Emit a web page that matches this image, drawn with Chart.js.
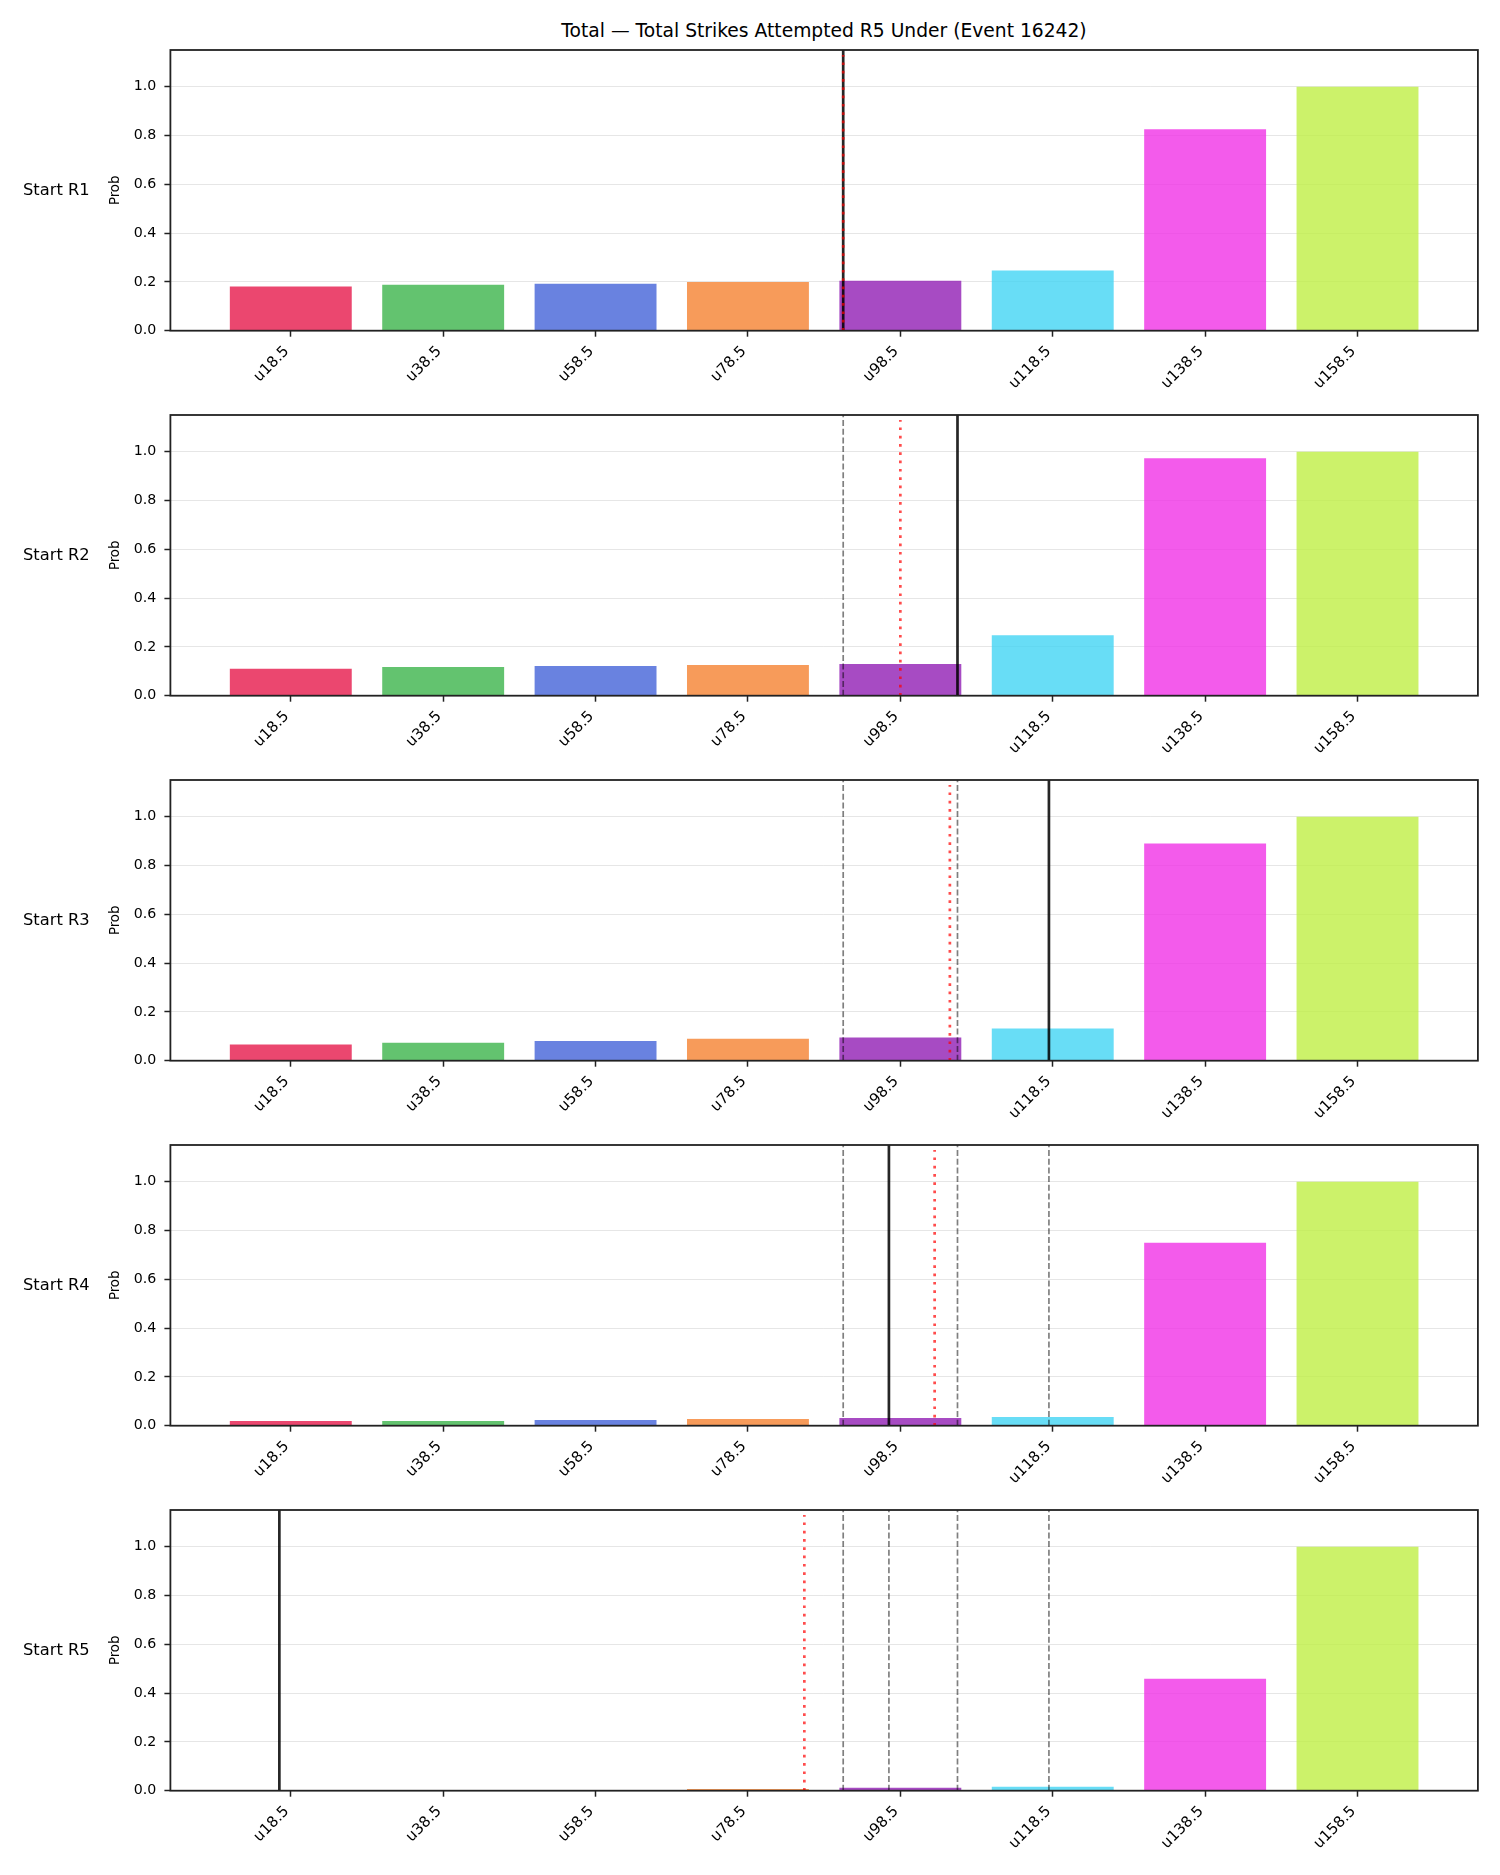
<!DOCTYPE html>
<html>
<head>
<meta charset="utf-8">
<script src="https://cdn.jsdelivr.net/npm/chart.js@4.4.1/dist/chart.umd.min.js"></script>
<style>
  html, body { margin: 0; padding: 0; background: #fff; }
  body { position: relative; width: 1500px; height: 1875px; overflow: hidden; font-family: 'DejaVu Sans', sans-serif; color: #000; }
  canvas { position: absolute; left: 0; }
  .title { position: absolute; left: 0; top: 20px; width: 1648px; text-align: center; font-size: 18.7px; line-height: 22px; white-space: nowrap; }
  .rowlabel { position: absolute; left: 23px; font-size: 16.3px; line-height: 20px; white-space: nowrap; }
</style>
</head>
<body>
<script>
// ---- data ----
const thresholds = [18.5, 38.5, 58.5, 78.5, 98.5, 118.5, 138.5, 158.5];
const tickLabels = ['u18.5', 'u38.5', 'u58.5', 'u78.5', 'u98.5', 'u118.5', 'u138.5', 'u158.5'];
const rowLabels = ['Start R1', 'Start R2', 'Start R3', 'Start R4', 'Start R5'];
const probR1 = [0.181, 0.188, 0.192, 0.200, 0.205, 0.247, 0.825, 0.999];
const probR2 = [0.110, 0.118, 0.122, 0.126, 0.130, 0.248, 0.973, 0.999];
const probR3 = [0.066, 0.074, 0.081, 0.090, 0.095, 0.132, 0.890, 0.999];
const probR4 = [0.019, 0.019, 0.023, 0.027, 0.032, 0.036, 0.750, 0.999];
const probR5 = [0.0005, 0.002, 0.003, 0.007, 0.012, 0.016, 0.459, 0.999];
const actualTotals = [91, 106, 118, 97, 17];        // solid black line per row
const projectedTotals = [91, 98.5, 105, 103, 85.9]; // red dotted line per row
const yTicks = [0, 0.2, 0.4, 0.6, 0.8, 1.0];
const titleText = 'Total — Total Strikes Attempted R5 Under (Event 16242)';

// ---- styles ----
const barPalette = ['#e6194b', '#3cb44b', '#4363d8', '#f58231', '#911eb4', '#42d4f4', '#f032e6', '#bfef45'];
const FONT = 'DejaVu Sans';
const Y_MAX = 1.15, RED_TOP = 1.13;
const X_MIN = 2.7, X_MAX = 174.3;
const PANEL_STEP = 365, CANVAS_H = 430;

const probs = [probR1, probR2, probR3, probR4, probR5];

const t = document.createElement('div');
t.className = 'title';
t.textContent = titleText;
document.body.appendChild(t);

const framePlugin = {
  id: 'frame',
  afterDraw(chart) {
    const { ctx, chartArea: a } = chart;
    ctx.save();
    ctx.strokeStyle = '#222';
    ctx.lineWidth = 1.8;
    ctx.strokeRect(a.left, a.top, a.right - a.left, a.bottom - a.top);
    ctx.restore();
  }
};

function vline(x, yTop, style) {
  return Object.assign({
    type: 'line',
    data: [{ x: x, y: 0 }, { x: x, y: yTop }],
    pointRadius: 0, pointHoverRadius: 0, fill: false, tension: 0
  }, style);
}

probs.forEach((p, i) => {
  const canvas = document.createElement('canvas');
  canvas.width = 1500;
  canvas.height = CANVAS_H;
  canvas.style.width = '1500px';
  canvas.style.height = CANVAS_H + 'px';
  canvas.style.top = (PANEL_STEP * i) + 'px';
  document.body.appendChild(canvas);

  const lab = document.createElement('div');
  lab.className = 'rowlabel';
  lab.style.top = (PANEL_STEP * i + 180) + 'px';
  lab.textContent = rowLabels[i];
  document.body.appendChild(lab);

  const datasets = [];
  datasets.push({
    type: 'bar',
    data: thresholds.map((th, j) => ({ x: th, y: p[j] })),
    backgroundColor: barPalette.map(c => c + 'cc'),
    borderWidth: 0,
    barPercentage: 0.8,
    categoryPercentage: 1.0,
    order: 5
  });
  actualTotals.slice(0, i).forEach(v => datasets.push(vline(v, Y_MAX, {
    borderColor: 'rgba(0,0,0,0.5)', borderWidth: 1.7, borderDash: [6, 2.7], order: 3
  })));
  datasets.push(vline(actualTotals[i], Y_MAX, {
    borderColor: 'rgba(0,0,0,0.85)', borderWidth: 2.7, order: 2
  }));
  datasets.push(vline(projectedTotals[i], RED_TOP, {
    borderColor: 'rgba(255,0,0,0.7)', borderWidth: 2.7, borderDash: [2.7, 5.6], order: 1
  }));

  new Chart(canvas, {
    type: 'bar',
    data: { datasets },
    plugins: [framePlugin],
    options: {
      responsive: false,
      animation: false,
      events: [],
      layout: { padding: { top: 50, right: 22.1, bottom: 0, left: 0 } },
      plugins: { legend: { display: false }, tooltip: { enabled: false }, title: { display: false } },
      scales: {
        x: {
          type: 'linear', min: X_MIN, max: X_MAX, offset: false,
          afterBuildTicks: s => { s.ticks = thresholds.map(v => ({ value: v })); },
          afterFit: s => { s.height = CANVAS_H - 330.7; },
          ticks: {
            autoSkip: false, minRotation: 45, maxRotation: 45, padding: 6, labelOffset: -4,
            color: '#000', font: { family: FONT, size: 15 },
            callback: (v, idx) => tickLabels[idx]
          },
          grid: { display: true, drawOnChartArea: false, drawTicks: true, tickLength: 6, tickWidth: 1.5, tickColor: '#222', offset: false },
          border: { display: false }
        },
        y: {
          type: 'linear', min: 0, max: Y_MAX,
          afterBuildTicks: s => { s.ticks = yTicks.map(v => ({ value: v })); },
          afterFit: s => { s.width = 170.4; },
          ticks: { padding: 8, color: '#000', font: { family: FONT, size: 14.2 }, callback: v => v.toFixed(1) },
          grid: { color: '#e6e6e6', lineWidth: 1, drawTicks: true, tickLength: 6, tickWidth: 1.5, tickColor: '#222' },
          border: { display: false },
          title: { display: true, text: 'Prob', color: '#000', font: { family: FONT, size: 13.3 }, padding: { top: 108, bottom: 0 } }
        }
      }
    }
  });
});
</script>
</body>
</html>
